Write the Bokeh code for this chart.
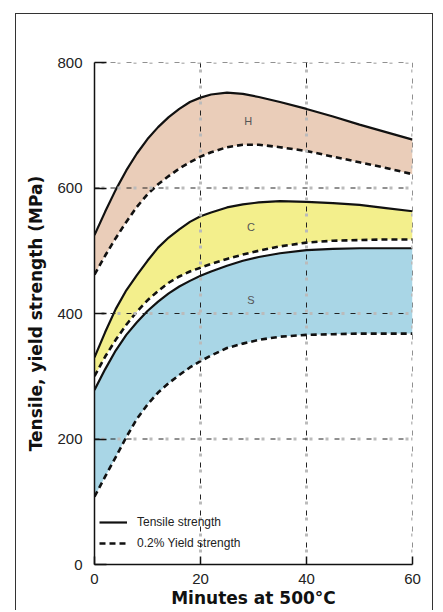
from bokeh.plotting import figure
from bokeh.models import Legend, LegendItem, Span, FixedTicker
from bokeh.core.properties import value
from bokeh.embed import file_html
from bokeh.resources import INLINE

minutes = [0, 2, 4, 6, 8, 10, 12, 14, 16, 18, 20, 22, 25, 28, 31, 35, 40, 45, 50, 55, 60]

h_tensile = [525, 562, 597, 628, 655, 678, 697, 713, 726, 737, 744, 749, 752, 750, 745, 737, 726, 714, 701, 689, 677]
h_yield = [462, 492, 520, 546, 570, 590, 606, 619, 631, 641, 650, 657, 665, 669, 669, 665, 659, 650, 641, 632, 622]

c_tensile = [330, 370, 407, 437, 461, 484, 505, 521, 534, 546, 555, 561, 569, 574, 577, 579, 578, 576, 573, 568, 563]
c_yield = [300, 331, 358, 382, 403, 421, 436, 449, 459, 467, 473, 479, 487, 494, 500, 507, 513, 516, 517, 518, 518]

s_tensile = [278, 311, 341, 366, 386, 404, 419, 432, 443, 452, 460, 467, 476, 484, 490, 496, 501, 503, 504, 504, 504]
s_yield = [108, 140, 171, 203, 232, 255, 274, 289, 302, 314, 324, 333, 345, 352, 358, 363, 366, 367, 368, 368, 368]

band_labels = ["H", "C", "S"]
label_x = [29, 29.5, 29.5]
label_y = [706, 538, 421]

x_ticks = [0, 20, 40, 60]
y_ticks = [0, 200, 400, 600, 800]

FONT = "Liberation Sans"

p = figure(width=418, height=597, output_backend="svg", toolbar_location=None,
           x_range=(0, 60), y_range=(0, 800),
           min_border_left=78, min_border_right=22, min_border_top=48, min_border_bottom=47)
p.styles = {"border-left": "1px solid #333", "border-top": "1px solid #333",
            "border-right": "1px solid #333", "margin-left": "15px", "margin-top": "13px"}
p.outline_line_color = None
p.background_fill_color = "white"

# bands
p.varea(x=minutes, y1=h_yield, y2=h_tensile, fill_color="#eacdb9")
p.varea(x=minutes, y1=c_yield, y2=c_tensile, fill_color="#f3ef8c")
p.varea(x=minutes, y1=s_yield, y2=s_tensile, fill_color="#a9d6e6")

# gridlines on top of fills
for v in [20, 40, 60]:
    p.add_layout(Span(location=v, dimension="height", line_color="#bbbbbb", line_width=3,
                      line_dash="3 13", line_dash_offset=9, level="glyph"))
    p.add_layout(Span(location=v, dimension="height", line_color="#222222", line_width=1,
                      line_dash="5 11", level="glyph"))
for v in [200, 400, 600, 800]:
    p.add_layout(Span(location=v, dimension="width", line_color="#bbbbbb", line_width=3,
                      line_dash="3 13", line_dash_offset=9, level="glyph"))
    p.add_layout(Span(location=v, dimension="width", line_color="#222222", line_width=1,
                      line_dash="5 11", level="glyph"))
p.xgrid.visible = False
p.ygrid.visible = False

# lines
lines_t = []
lines_y = []
for t, y in [(h_tensile, h_yield), (c_tensile, c_yield), (s_tensile, s_yield)]:
    lines_t.append(p.line(minutes, t, line_color="#111111", line_width=2.2))
    lines_y.append(p.line(minutes, y, line_color="#111111", line_width=2.6, line_dash="6 4"))

p.text(x=label_x, y=label_y, text=band_labels, text_font=value(FONT), text_font_size="11px",
       text_color="#555555", text_align="center", text_baseline="middle")

legend = Legend(items=[LegendItem(label="Tensile strength", renderers=[lines_t[0]]),
                       LegendItem(label="0.2% Yield strength", renderers=[lines_y[0]])],
                location=(5, 12), background_fill_alpha=0, border_line_color=None,
                label_text_font=FONT, label_text_font_size="12px", label_text_color="#222222",
                glyph_width=28, glyph_height=18, label_height=18, spacing=3, padding=2,
                label_standoff=10)
p.add_layout(legend)

# axes
p.xaxis.ticker = FixedTicker(ticks=x_ticks)
p.yaxis.ticker = FixedTicker(ticks=y_ticks)
for ax in (p.xaxis[0], p.yaxis[0]):
    ax.axis_line_color = "#111111"
    ax.axis_line_width = 1.5
    ax.major_tick_line_color = "#111111"
    ax.major_tick_line_width = 1.5
    ax.major_tick_out = 0
    ax.minor_tick_line_color = None
    ax.major_label_text_font = FONT
    ax.major_label_text_font_size = "15px"
    ax.major_label_text_color = "#222222"
    ax.axis_label_text_font = "DejaVu Sans"
    ax.axis_label_text_font_style = "bold"
    ax.axis_label_text_font_size = "17px"
    ax.axis_label_text_color = "#111111"
p.xaxis.major_tick_in = 8
p.yaxis.major_tick_in = 12
p.xaxis.major_label_standoff = 9
p.yaxis.major_label_standoff = 12
p.xaxis.axis_label = "Minutes at 500°C"
p.yaxis.axis_label = "Tensile, yield strength (MPa)"
p.xaxis.axis_label_standoff = 1
p.yaxis.axis_label_standoff = 8

open("out.html", "w").write(file_html(p, INLINE))
